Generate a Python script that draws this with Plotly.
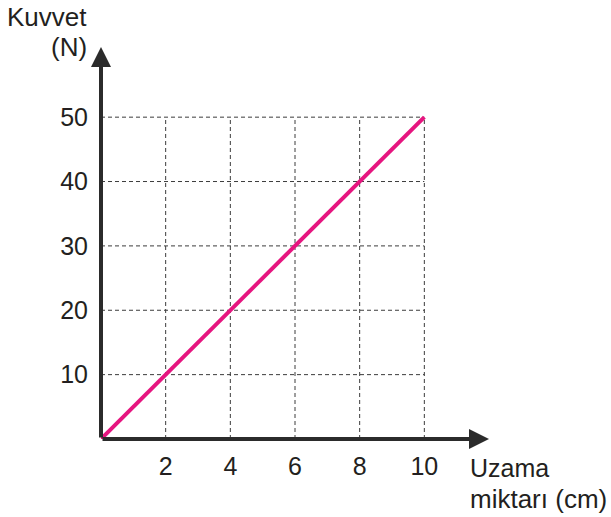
import plotly.graph_objects as go

# Data
uzama = [0, 10]          # cm
kuvvet = [0, 50]         # N
x_ticks = [2, 4, 6, 8, 10]
y_ticks = [10, 20, 30, 40, 50]

X_MAX, Y_MAX = 12.0, 60.9
AX_COLOR = "#2b2b2b"
TXT = "#231f20"
FONT = "Liberation Sans, Arial, sans-serif"

W, H = 611, 517
ML, MR, MT, MB = 101, 122, 47, 78
PW, PH = W - ML - MR, H - MT - MB


def px(xp):
    return (xp - ML) / PW


def py(yp):
    return (H - MB - yp) / PH


fig = go.Figure()

shapes = []
for xv in x_ticks:
    shapes.append(dict(type="line", xref="x", yref="y", x0=xv, x1=xv, y0=0, y1=max(y_ticks),
                       line=dict(color="#3c3c3c", width=1, dash="4px,3px"), layer="below"))
for yv in y_ticks:
    shapes.append(dict(type="line", xref="x", yref="y", x0=0, x1=max(x_ticks), y0=yv, y1=yv,
                       line=dict(color="#3c3c3c", width=1, dash="4px,3px"), layer="below"))

fig.add_trace(go.Scatter(x=uzama, y=kuvvet, mode="lines",
                         line=dict(color="#e6157f", width=4), hoverinfo="skip", cliponaxis=False))

annotations = [
    dict(x=X_MAX, y=0, ax=0, ay=0, xref="x", yref="y", axref="x", ayref="y", text="",
         showarrow=True, arrowhead=2, arrowsize=1.0, arrowwidth=4, arrowcolor=AX_COLOR, standoff=0),
    dict(x=0, y=Y_MAX, ax=0, ay=0, xref="x", yref="y", axref="x", ayref="y", text="",
         showarrow=True, arrowhead=2, arrowsize=1.0, arrowwidth=4, arrowcolor=AX_COLOR, standoff=0),
    dict(x=px(5), y=py(17), xref="paper", yref="paper", text="Kuvvet", showarrow=False,
         xanchor="left", yanchor="middle", font=dict(size=26, color=TXT, family=FONT)),
    dict(x=px(89), y=py(47), xref="paper", yref="paper", text="(N)", showarrow=False,
         xanchor="right", yanchor="middle", font=dict(size=26, color=TXT, family=FONT)),
    dict(x=px(468), y=py(468), xref="paper", yref="paper", text="Uzama", showarrow=False,
         xanchor="left", yanchor="middle", font=dict(size=25, color=TXT, family=FONT)),
    dict(x=px(468), y=py(499), xref="paper", yref="paper", text="miktarı (cm)", showarrow=False,
         xanchor="left", yanchor="middle", font=dict(size=26, color=TXT, family=FONT)),
]

fig.update_layout(
    width=W, height=H,
    margin=dict(l=ML, r=MR, t=MT, b=MB, autoexpand=False),
    paper_bgcolor="white", plot_bgcolor="white",
    showlegend=False,
    shapes=shapes,
    annotations=annotations,
    font=dict(family=FONT, color=TXT, size=25),
    xaxis=dict(range=[0, X_MAX], tickvals=x_ticks, ticktext=[str(v) for v in x_ticks],
               showgrid=False, zeroline=False, showline=False, ticks="", automargin=False,
               tickfont=dict(size=25, color=TXT), ticklabelstandoff=10, fixedrange=True),
    yaxis=dict(range=[0, Y_MAX], tickvals=y_ticks, ticktext=[str(v) for v in y_ticks],
               showgrid=False, zeroline=False, showline=False, ticks="", automargin=False,
               tickfont=dict(size=25, color=TXT), ticklabelstandoff=12, fixedrange=True),
)

fig.write_html("out.html", config={"displayModeBar": False, "staticPlot": True})

# remove the browser's default page margin so the figure sits at the window origin
with open("out.html", "r", encoding="utf-8") as f:
    html = f.read()
html = html.replace("<body>", '<body style="margin:0;padding:0;overflow:hidden">', 1)
with open("out.html", "w", encoding="utf-8") as f:
    f.write(html)
